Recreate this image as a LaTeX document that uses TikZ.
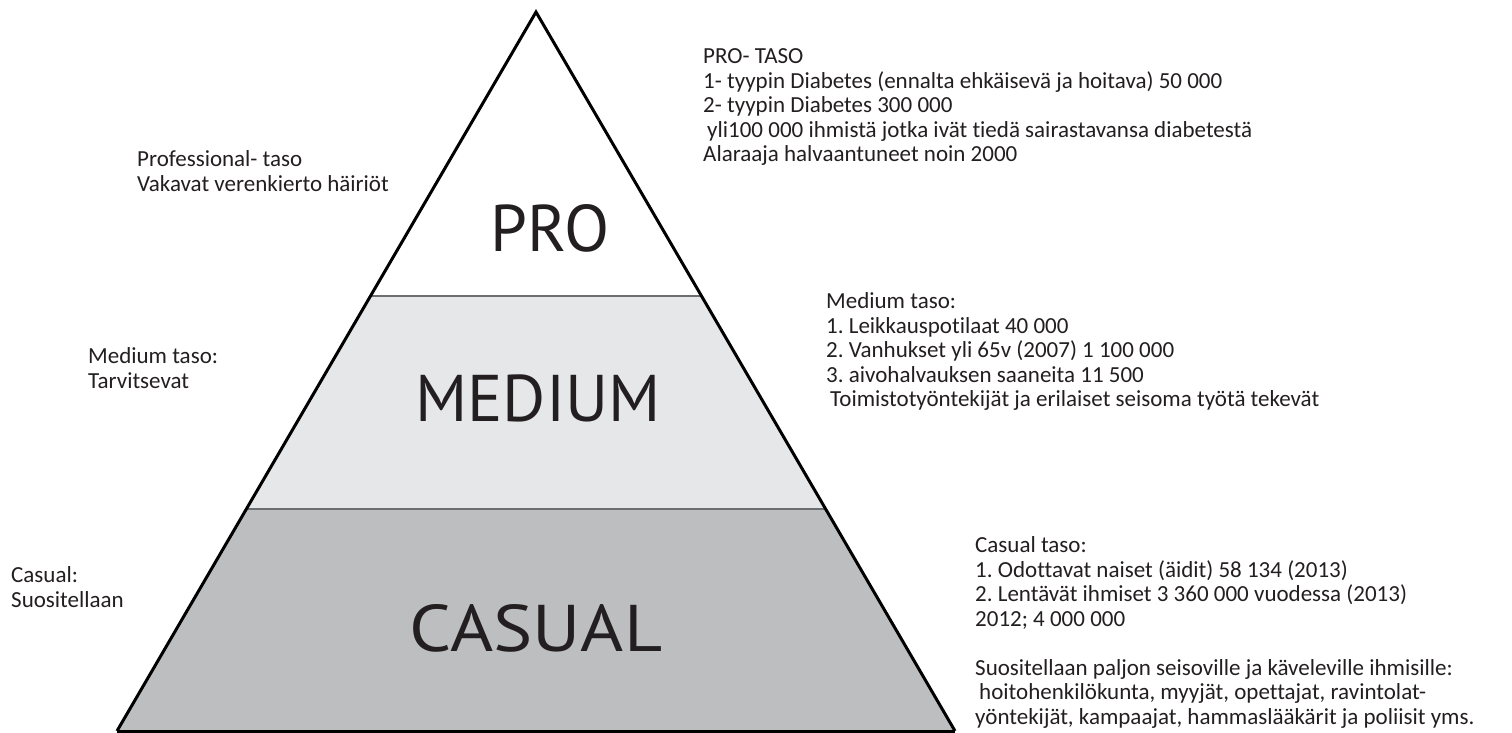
\documentclass[tikz,border=0pt]{standalone}
\usepackage{fontspec}
\setmainfont{Carlito}[Ligatures={NoCommon}]
\newfontfamily\tierfont{PT Sans}
\usetikzlibrary{calc}
\definecolor{medfill}{HTML}{E6E7E8}
\definecolor{casfill}{HTML}{BCBEC0}
\definecolor{divline}{HTML}{6D6E71}
\definecolor{baseline}{HTML}{414042}
\definecolor{ink}{HTML}{231F20}
\frenchspacing
\begin{document}
\begin{tikzpicture}[x=1pt,y=-1pt,
  info/.style={anchor=north west, inner sep=0pt, align=left, text=ink,
    font=\fontsize{23}{24.5}\selectfont},
  tier/.style={inner sep=0pt, text=ink, font=\tierfont\fontsize{66}{72}\selectfont},
  outline/.style={line width=3pt, black, line join=miter},
  divider/.style={line width=2pt, divline},
  basestroke/.style={line width=3pt, baseline}]
\useasboundingbox[fill=white] (0,0) rectangle (1512,732);
\coordinate (apex) at (536,12);
\coordinate (bl) at (117,731);
\coordinate (br) at (955,731);
\coordinate (d1l) at ($(apex)!0.3955!(bl)$);
\coordinate (d1r) at ($(apex)!0.3955!(br)$);
\coordinate (d2l) at ($(apex)!0.6908!(bl)$);
\coordinate (d2r) at ($(apex)!0.6908!(br)$);
% tiers
\fill[white] (apex) -- (d1r) -- (d1l) -- cycle;
\fill[medfill] (d1l) -- (d1r) -- (d2r) -- (d2l) -- cycle;
\fill[casfill] (d2l) -- (d2r) -- (br) -- (bl) -- cycle;
\draw[divider] (d1l) -- (d1r);
\draw[divider] (d2l) -- (d2r);
\draw[basestroke] (bl) -- (br);
\draw[outline] (bl) -- (apex) -- (br);
% tier labels
\node[tier] (pro) at (550,228) {PRO};
\node[tier] (medium) at (538,398) {MEDIUM};
\node[tier] (casual) at (536,628) {\scalebox{1.12}[1]{CASUAL}};
% left texts
\node[info] (proleft) at (137,150.5) {Professional- taso\\Vakavat verenkierto häiriöt};
\node[info] (medleft) at (88,347.5) {Medium taso:\\Tarvitsevat};
\node[info] (casleft) at (11,566.5) {Casual:\\Suositellaan};
% right texts
\node[info] (proright) at (703,48.5) {PRO- TASO\\
1- tyypin Diabetes (ennalta ehkäisevä ja hoitava) 50 000\\
2- tyypin Diabetes 300 000\\
\hspace*{4pt}yli100 000 ihmistä jotka ivät tiedä sairastavansa diabetestä\\
Alaraaja halvaantuneet noin 2000};
\node[info] (medright) at (826,292.5) {Medium taso:\\
1. Leikkauspotilaat 40 000\\
2. Vanhukset yli 65v (2007) 1 100 000\\
3. aivohalvauksen saaneita 11 500\\
\hspace*{4pt}Toimistotyöntekijät ja erilaiset seisoma työtä tekevät};
\node[info] (casright) at (975,536.5) {Casual taso:\\
1. Odottavat naiset (äidit) 58 134 (2013)\\
2. Lentävät ihmiset 3 360 000 vuodessa (2013)\\
2012; 4 000 000\\[24.5pt]
Suositellaan paljon seisoville ja käveleville ihmisille:\\
\hspace*{4pt}hoitohenkilökunta, myyjät, opettajat, ravintolat-\\
yöntekijät, kampaajat, hammaslääkärit ja poliisit yms.};
\end{tikzpicture}
\end{document}
